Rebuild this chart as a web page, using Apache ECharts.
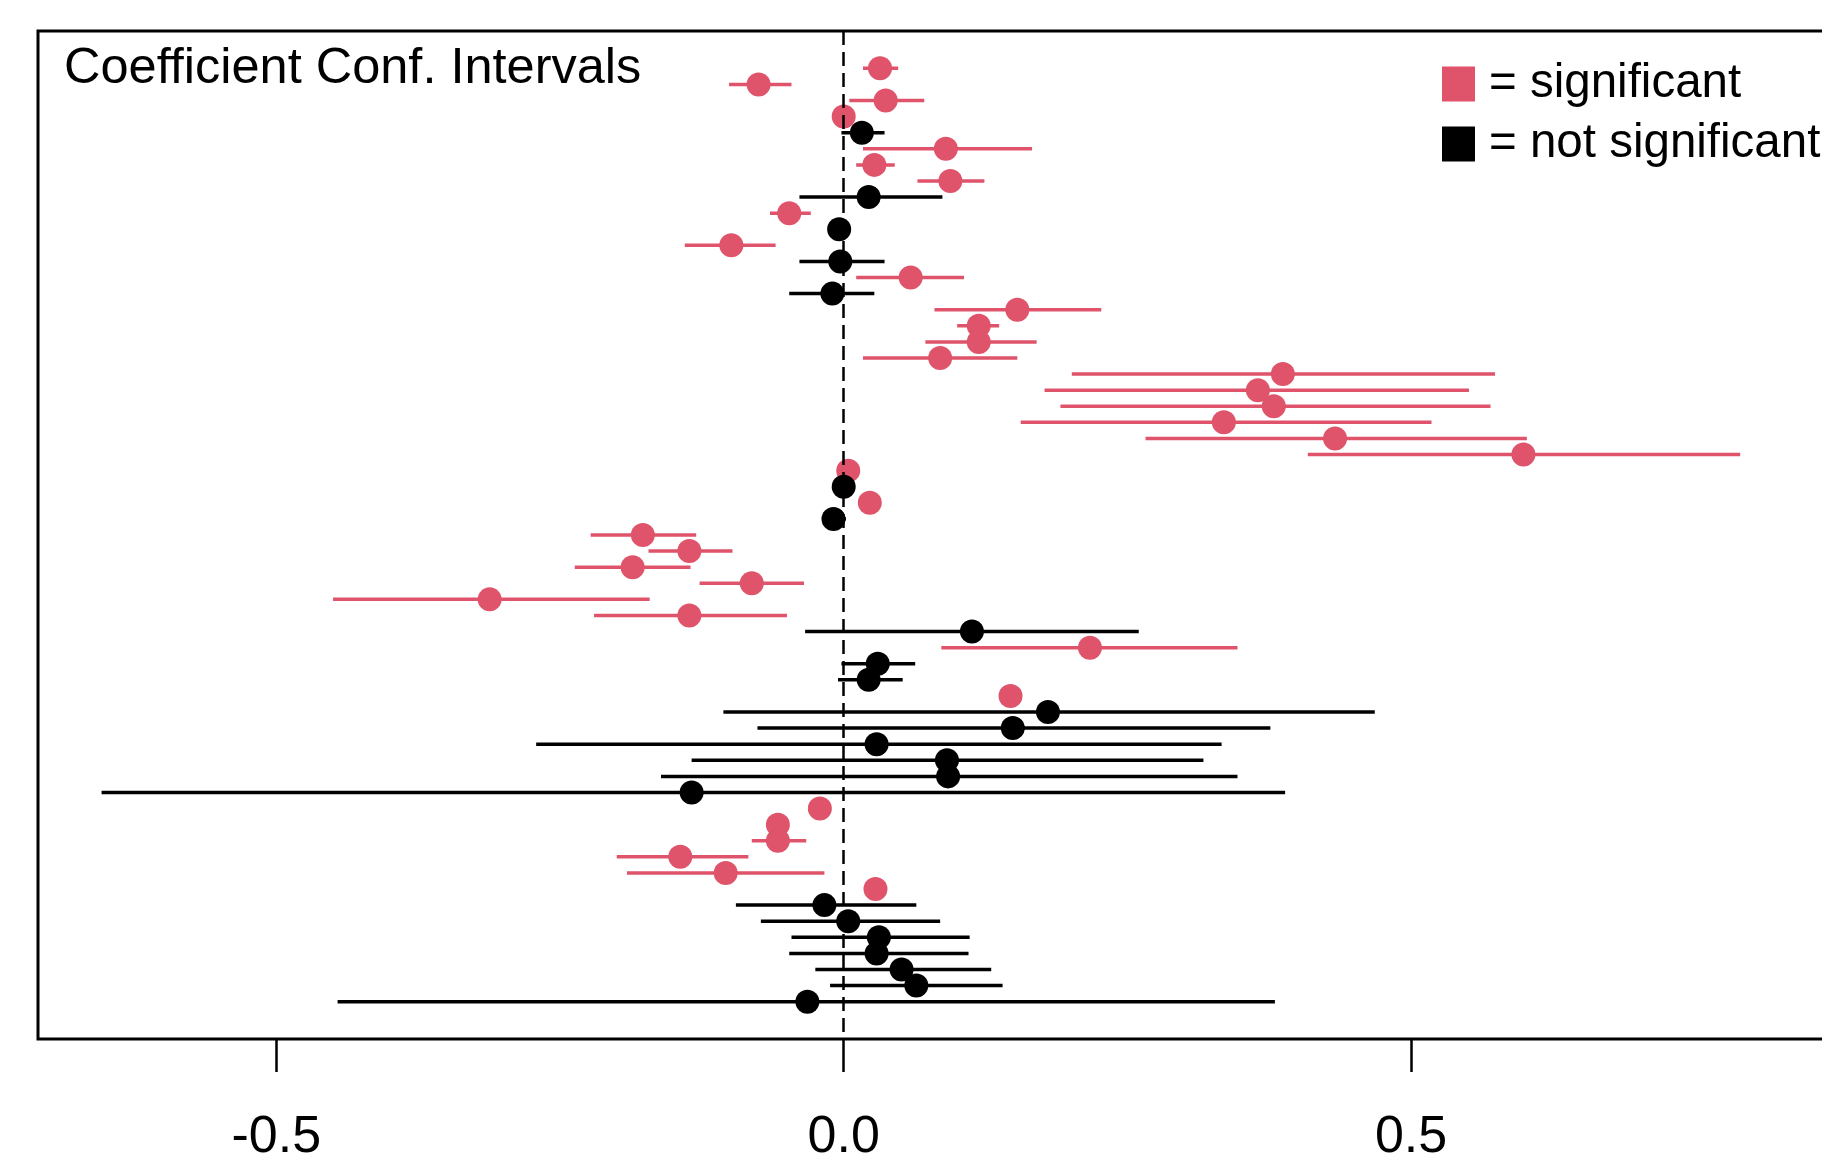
<!DOCTYPE html>
<html>
<head>
<meta charset="utf-8">
<script src="https://cdn.jsdelivr.net/npm/echarts@6/dist/echarts.min.js"></script>
<style>
  html, body { margin: 0; padding: 0; background: #fff; overflow: hidden; }
  #chart { width: 1900px; height: 1166px; }
</style>
</head>
<body>
<div id="chart"></div>
<script>
// ---- Data (rows listed top to bottom) ----
const estimates = [
  0.032, -0.075, 0.037, 0.000, 0.016, 0.090, 0.027, 0.094, 0.022, -0.048,
  -0.004, -0.099, -0.003, 0.059, -0.010, 0.153, 0.119, 0.119, 0.085, 0.387,
  0.365, 0.379, 0.335, 0.433, 0.599, 0.004, 0.000, 0.023, -0.009, -0.177,
  -0.136, -0.186, -0.081, -0.312, -0.136, 0.113, 0.217, 0.030, 0.022, 0.147,
  0.180, 0.149, 0.029, 0.091, 0.092, -0.134, -0.021, -0.058, -0.058, -0.144,
  -0.104, 0.028, -0.017, 0.004, 0.031, 0.029, 0.051, 0.064, -0.032
];
const lowerBounds = [
  0.017, -0.101, 0.005, -0.006, -0.002, 0.017, 0.011, 0.065, -0.039, -0.065,
  -0.009, -0.140, -0.039, 0.011, -0.048, 0.080, 0.100, 0.072, 0.017, 0.201,
  0.177, 0.191, 0.156, 0.266, 0.409, 0.001, -0.005, 0.017, -0.015, -0.223,
  -0.172, -0.237, -0.127, -0.450, -0.220, -0.034, 0.086, -0.002, -0.005, 0.140,
  -0.106, -0.076, -0.271, -0.134, -0.161, -0.654, -0.027, -0.064, -0.081, -0.200,
  -0.191, 0.022, -0.095, -0.073, -0.046, -0.048, -0.025, -0.012, -0.446
];
const upperBounds = [
  0.048, -0.046, 0.071, 0.006, 0.036, 0.166, 0.045, 0.124, 0.087, -0.029,
  0.001, -0.060, 0.036, 0.106, 0.027, 0.227, 0.137, 0.170, 0.153, 0.574,
  0.551, 0.570, 0.518, 0.602, 0.790, 0.008, 0.005, 0.029, 0.002, -0.130,
  -0.098, -0.135, -0.035, -0.171, -0.050, 0.260, 0.347, 0.063, 0.052, 0.154,
  0.468, 0.376, 0.333, 0.317, 0.347, 0.389, -0.015, -0.052, -0.033, -0.084,
  -0.017, 0.034, 0.064, 0.085, 0.111, 0.110, 0.130, 0.140, 0.380
];
const significant = [
  1, 1, 1, 1, 0, 1, 1, 1, 0, 1,
  0, 1, 0, 1, 0, 1, 1, 1, 1, 1,
  1, 1, 1, 1, 1, 1, 0, 1, 0, 1,
  1, 1, 1, 1, 1, 0, 1, 0, 0, 1,
  0, 0, 0, 0, 0, 0, 1, 1, 1, 1,
  1, 1, 0, 0, 0, 0, 0, 0, 0
];
const xTickValues = [-0.5, 0, 0.5];
const xTickLabels = ['-0.5', '0.0', '0.5'];
const titleText = 'Coefficient Conf. Intervals';
const legendNames = ['= significant', '= not significant'];
const referenceX = 0;

// ---- Styling ----
const RED = '#DF536B';
const BLACK = '#000000';
const FONT = "'Liberation Sans', Arial, sans-serif";
const nRows = estimates.length;

function buildRows(flag) {
  const out = [];
  for (let i = 0; i < nRows; i++) {
    if (significant[i] === flag) {
      out.push([i + 1, estimates[i], lowerBounds[i], upperBounds[i]]);
    }
  }
  return out;
}

function makeRenderer(color) {
  return function (params, api) {
    const row = api.value(0);
    const p = api.coord([api.value(1), row]);
    const lo = api.coord([api.value(2), row]);
    const hi = api.coord([api.value(3), row]);
    return {
      type: 'group',
      children: [
        { type: 'line', shape: { x1: lo[0], y1: lo[1], x2: hi[0], y2: hi[1] },
          style: { stroke: color, lineWidth: 3.5 } },
        { type: 'circle', shape: { cx: p[0], cy: p[1], r: 12 },
          style: { fill: color } }
      ]
    };
  };
}

const chart = echarts.init(document.getElementById('chart'), null, { renderer: 'canvas' });
const pad = (nRows - 1) * 0.04;

chart.setOption({
  animation: false,
  backgroundColor: '#ffffff',
  title: {
    text: titleText,
    left: 64,
    top: 44,
    padding: 0,
    textStyle: { fontFamily: FONT, fontSize: 50.5, fontWeight: 'normal', color: '#000', lineHeight: 50 }
  },
  legend: {
    orient: 'vertical',
    left: 1442,
    top: 60,
    padding: 0,
    itemWidth: 33,
    itemHeight: 35,
    itemGap: 12,
    icon: 'rect',
    selectedMode: false,
    data: [
      { name: legendNames[0], itemStyle: { color: RED } },
      { name: legendNames[1], itemStyle: { color: BLACK } }
    ],
    textStyle: { fontFamily: FONT, fontSize: 47.5, lineHeight: 47, color: '#000', padding: [0, 0, 0, 9] }
  },
  grid: {
    show: true,
    left: 38,
    top: 31,
    width: 1827,
    height: 1008,
    borderColor: '#000',
    borderWidth: 3,
    backgroundColor: 'transparent'
  },
  xAxis: {
    type: 'value',
    position: 'bottom',
    min: -0.71,
    max: 0.9,
    axisLine: { show: false, onZero: false },
    splitLine: { show: false },
    axisTick: {
      show: true, inside: false, length: 33,
      customValues: xTickValues,
      lineStyle: { color: '#000', width: 2.5 }
    },
    axisLabel: {
      show: true,
      customValues: xTickValues,
      margin: 73,
      fontFamily: FONT,
      fontSize: 52,
      lineHeight: 52,
      color: '#000',
      formatter: function (v) {
        const idx = xTickValues.indexOf(v);
        return idx >= 0 ? xTickLabels[idx] : '';
      }
    }
  },
  yAxis: {
    type: 'value',
    inverse: true,
    min: 1 - pad,
    max: nRows + pad,
    axisLine: { show: false, onZero: false },
    axisTick: { show: false },
    axisLabel: { show: false },
    splitLine: { show: false }
  },
  series: [
    {
      name: legendNames[0],
      type: 'custom',
      silent: true,
      itemStyle: { color: RED },
      renderItem: makeRenderer(RED),
      encode: { x: [1, 2, 3], y: 0 },
      data: buildRows(1),
      z: 2
    },
    {
      name: legendNames[1],
      type: 'custom',
      silent: true,
      itemStyle: { color: BLACK },
      renderItem: makeRenderer(BLACK),
      encode: { x: [1, 2, 3], y: 0 },
      data: buildRows(0),
      z: 3,
      markLine: {
        silent: true,
        symbol: ['none', 'none'],
        label: { show: false },
        emphasis: { disabled: true },
        lineStyle: { color: '#000', type: [14, 7], width: 2.5 },
        data: [{ xAxis: referenceX }]
      }
    }
  ]
});
</script>
</body>
</html>
